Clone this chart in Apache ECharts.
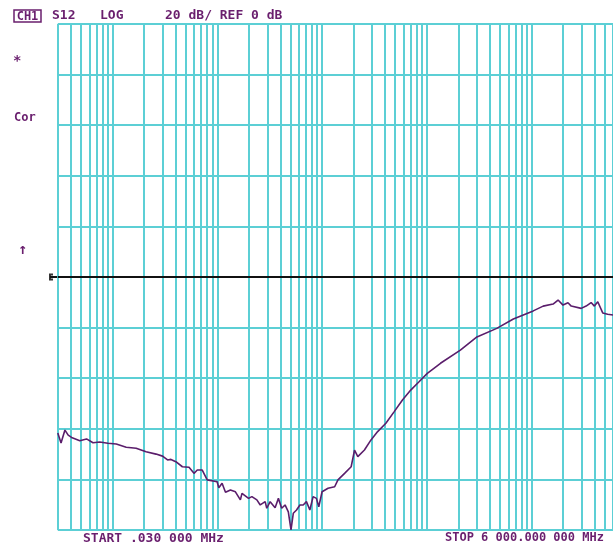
<!DOCTYPE html>
<html>
<head>
<meta charset="utf-8">
<script src="https://cdn.jsdelivr.net/npm/echarts@6/dist/echarts.min.js"></script>
<style>
html,body{margin:0;padding:0;background:#fff;}
#chart{width:613px;height:546px;}
</style>
</head>
<body>
<div id="chart"></div>
<script>
// Frequency (MHz) of trace points
const freqMHz = [0.030,0.0322,0.0351,0.0377,0.0406,0.0487,0.0564,0.0651,0.0754,0.0903,
  0.1085,0.135,0.168,0.209,0.260,0.300,0.335,0.361,0.402,0.464,
  0.537,0.599,0.644,0.718,0.801,0.996,1.034,1.111,1.197,1.335,
  1.489,1.661,1.720,1.990,2.139,2.386,2.570,2.865,2.967,3.196,
  3.564,3.832,4.117,4.435,4.766,5.055,5.316,5.709,6.151,6.61,
  7.10,7.65,8.22,8.84,9.31,10.01,11.41,13.20,14.19,16.42,
  18.97,20.43,21.96,25.4,29.35,33.96,40.7,48.9,58.6,70.3,
  84.4,101.2,135.2,209.3,301.3,466,671,835,1039,1292,
  1607,1793,1999,2229,2396,2980,3324,3708,3984,4292,
  4786,5335,6000];
// S12 magnitude (dB)
const s12dB = [-61.7,-65.6,-60.5,-62.5,-63.4,-64.7,-64.0,-65.5,-65.2,-65.7,
  -66.0,-67.3,-67.7,-69.1,-70.0,-70.8,-72.3,-72.1,-73.0,-75.0,
  -75.2,-77.6,-76.3,-76.3,-80.2,-80.9,-83.3,-81.5,-85.1,-84.2,
  -84.9,-88.1,-85.5,-87.5,-86.8,-88.1,-90.1,-88.8,-91.4,-88.8,
  -91.2,-87.5,-91.4,-90.1,-92.8,-100.0,-93.4,-92.1,-90.1,-90.1,
  -88.8,-92.1,-86.8,-87.5,-90.8,-84.9,-83.5,-82.9,-80.2,-77.6,
  -75.0,-68.4,-71.0,-68.4,-64.4,-61.1,-57.8,-53.2,-48.6,-44.7,
  -41.4,-38.1,-34.1,-28.9,-23.7,-20.3,-16.6,-15.0,-13.4,-11.5,
  -10.7,-9.1,-11.1,-10.2,-11.5,-12.4,-11.5,-10.1,-11.5,-9.8,
  -14.2,-14.7,-15.0];
// Log grid line positions (MHz)
const gridFreqs = [0.03,0.04,0.05,0.06,0.07,0.08,0.09,
  0.1,0.2,0.3,0.4,0.5,0.6,0.7,0.8,0.9,
  1,2,3,4,5,6,7,8,9,
  10,20,30,40,50,60,70,80,90,
  100,200,300,400,500,600,700,800,900,
  1000,2000,3000,4000,5000,6000];
const startLabel = 'START .030 000 MHz';
const stopLabel = 'STOP 6 000.000 000 MHz';

const TXT = '#6a1f6e';
const GRID = '#5ccfd5';
const FONT = '"DejaVu Sans Mono", "Liberation Mono", monospace';

const chart = echarts.init(document.getElementById('chart'), null, {renderer:'canvas'});
const option = {
  animation: false,
  backgroundColor: '#ffffff',
  grid: {left: 57.8, top: 24, width: 559.3, height: 506, containLabel: false},
  xAxis: {
    type: 'log', logBase: 10, min: 0.03, max: 6000,
    axisLine: {show:false}, axisTick: {show:false}, axisLabel: {show:false},
    splitLine: {show:false}, minorSplitLine: {show:false}
  },
  yAxis: {
    type: 'value', min: -100, max: 100, interval: 20,
    axisLine: {show:false}, axisTick: {show:false}, axisLabel: {show:false},
    splitLine: {show:true, lineStyle: {color: GRID, width: 2}}
  },
  series: [
    {
      type: 'line', data: [], silent: true, z: 1,
      markLine: {
        silent: true, symbol: ['none','none'], animation: false,
        label: {show:false},
        lineStyle: {color: GRID, width: 2, type: 'solid'},
        data: gridFreqs.map(v => ({xAxis: v}))
      }
    },
    {
      type: 'line', z: 5,
      data: freqMHz.map((f,i) => [f, s12dB[i]]),
      showSymbol: false, symbol: 'none',
      lineStyle: {color: '#5a1d6b', width: 1.6},
      markLine: {
        silent: true, symbol: ['none','none'], animation: false,
        label: {show:false},
        lineStyle: {color: '#111111', width: 2, type: 'solid'},
        data: [{yAxis: 0}]
      }
    }
  ],
  graphic: [
    {type:'rect', shape:{x:14, y:10, width:27, height:12}, style:{fill:'#fff', stroke: TXT, lineWidth: 1.5}},
    {type:'text', x: 27.5, y: 16.5, style:{text:'CH1', fill: TXT, font:'bold 12px ' + FONT, align:'center', verticalAlign:'middle'}},
    {type:'text', left: 52, top: 9, style:{text:'S12', fill: TXT, font:'bold 13px ' + FONT}},
    {type:'text', left: 100, top: 9, style:{text:'LOG', fill: TXT, font:'bold 13px ' + FONT}},
    {type:'text', left: 165, top: 9, style:{text:'20 dB/ REF 0 dB', fill: TXT, font:'bold 13px ' + FONT}},
    {type:'text', left: 13, top: 54, style:{text:'*', fill: TXT, font:'bold 14px ' + FONT}},
    {type:'text', left: 14, top: 112, style:{text:'Cor', fill: TXT, font:'bold 12px ' + FONT}},
    {type:'text', left: 18, top: 243, style:{text:'↑', fill: TXT, font:'bold 15px ' + FONT}},
    {type:'text', left: 83, top: 532, style:{text: startLabel, fill: TXT, font:'bold 13px ' + FONT}},
    {type:'text', left: 445, top: 532, style:{text: stopLabel, fill: TXT, font:'bold 12px ' + FONT}},
    {type:'polyline', shape:{points:[[53,274.5],[50,274.5],[50,279.5],[53,279.5]]}, style:{stroke:'#333', lineWidth:2, fill:'none'}},
    {type:'line', shape:{x1:50, y1:277, x2:58, y2:277}, style:{stroke:'#111', lineWidth:2}}
  ]
};
chart.setOption(option);
</script>
</body>
</html>
